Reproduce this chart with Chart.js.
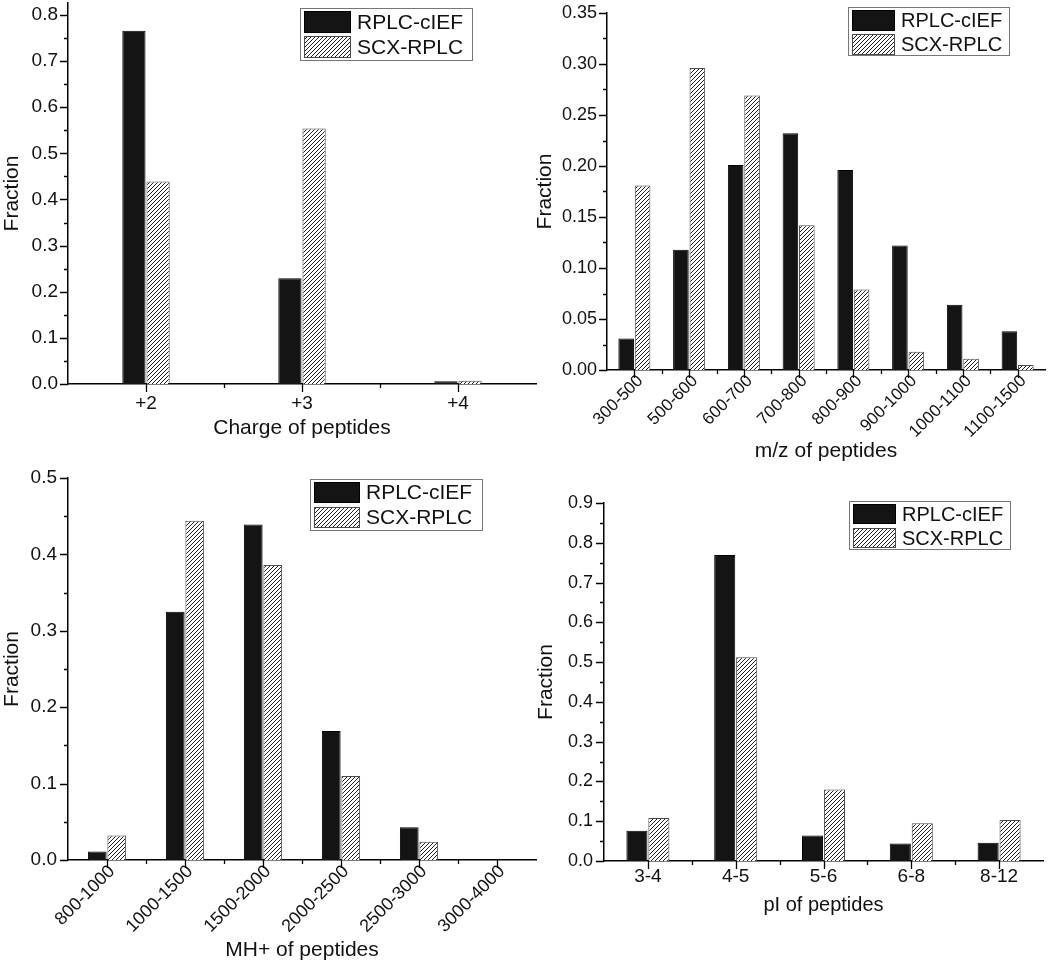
<!DOCTYPE html>
<html>
<head>
<meta charset="utf-8">
<script src="https://cdn.jsdelivr.net/npm/chart.js@4.4.1/dist/chart.umd.min.js"></script>
<style>
    html, body { margin: 0; padding: 0; background: #fff; }
    #wrap { position: relative; width: 1050px; height: 964px; }
    #wrap canvas { position: absolute; left: 0; top: 0; }
</style>
</head>
<body>
<div id="wrap">
    <canvas id="chargeChart" width="1050" height="964"></canvas>
    <canvas id="mzChart" width="1050" height="964"></canvas>
    <canvas id="mhChart" width="1050" height="964"></canvas>
    <canvas id="piChart" width="1050" height="964"></canvas>
</div>
<script>
// Данные
const seriesNames = ['RPLC-cIEF', 'SCX-RPLC'];

const chargeLabels = ['+2', '+3', '+4'];
const chargeRplc = [0.766, 0.229, 0.006];
const chargeScx = [0.439, 0.554, 0.007];

const mzLabels = ['300-500', '500-600', '600-700', '700-800', '800-900', '900-1000', '1000-1100', '1100-1500'];
const mzRplc = [0.031, 0.118, 0.201, 0.232, 0.196, 0.122, 0.064, 0.038];
const mzScx = [0.181, 0.296, 0.269, 0.142, 0.079, 0.018, 0.011, 0.005];

const mhLabels = ['800-1000', '1000-1500', '1500-2000', '2000-2500', '2500-3000', '3000-4000'];
const mhRplc = [0.011, 0.325, 0.439, 0.169, 0.043, 0];
const mhScx = [0.032, 0.444, 0.386, 0.110, 0.024, 0];

const piLabels = ['3-4', '4-5', '5-6', '6-8', '8-12'];
const piRplc = [0.076, 0.769, 0.064, 0.044, 0.046];
const piScx = [0.108, 0.512, 0.180, 0.095, 0.103];

Chart.defaults.font.family = '"Liberation Sans", Arial, sans-serif';
Chart.defaults.color = '#111';

// штриховка для второй серии
function hatch(ctx) {
    const c = document.createElement('canvas');
    c.width = 4; c.height = 4;
    const g = c.getContext('2d');
    g.fillStyle = '#fff';
    g.fillRect(0, 0, 4, 4);
    g.strokeStyle = '#222';
    g.lineWidth = 1;
    g.beginPath();
    g.moveTo(0, 4); g.lineTo(4, 0);
    g.moveTo(-1, 1); g.lineTo(1, -1);
    g.moveTo(3, 5); g.lineTo(5, 3);
    g.stroke();
    return ctx.createPattern(c, 'repeat');
}

// основные и промежуточные засечки на осях
const axisTicks = {
    id: 'axisTicks',
    afterDraw(chart, args, opts) {
        const ctx = chart.ctx;
        const area = chart.chartArea;
        const ys = chart.scales.y, xs = chart.scales.x;
        ctx.save();
        ctx.strokeStyle = '#000';
        ctx.lineWidth = 1.3;
        ctx.beginPath();
        const n = Math.round(opts.top / opts.minor);
        for (let i = 0; i <= n; i++) {
            const y = Math.round(ys.getPixelForValue(i * opts.minor)) + 0.5;
            const len = i % 2 === 0 ? 8 : 4;
            ctx.moveTo(area.left - len, y);
            ctx.lineTo(area.left, y);
        }
        const count = chart.data.labels.length;
        for (let i = 0; i < count; i++) {
            const x = Math.round(xs.getPixelForValue(i)) + 0.5;
            ctx.moveTo(x, area.bottom);
            ctx.lineTo(x, area.bottom + 8);
            if (i < count - 1) {
                const b = Math.round(xs.getPixelForValue(i + 0.5)) + 0.5;
                ctx.moveTo(b, area.bottom);
                ctx.lineTo(b, area.bottom + 4);
            }
        }
        ctx.stroke();
        ctx.restore();
    }
};

// легенда в рамке
const boxLegend = {
    id: 'boxLegend',
    afterDraw(chart, args, o) {
        const ctx = chart.ctx;
        ctx.save();
        ctx.strokeStyle = '#777';
        ctx.lineWidth = 1;
        ctx.strokeRect(o.x + 0.5, o.y + 0.5, o.w, o.h);
        chart.data.datasets.forEach((ds, i) => {
            const sx = o.x + 4;
            const sy = o.y + 3 + i * o.row;
            ctx.fillStyle = ds.backgroundColor;
            ctx.fillRect(sx, sy, o.sw, o.sh);
            ctx.strokeStyle = ds.borderColor;
            ctx.strokeRect(sx + 0.5, sy + 0.5, o.sw - 1, o.sh - 1);
            ctx.fillStyle = '#111';
            ctx.font = o.size + 'px "Liberation Sans", Arial, sans-serif';
            ctx.textBaseline = 'middle';
            ctx.fillText(ds.label, sx + o.sw + 6, sy + o.sh / 2 + 1);
        });
        ctx.restore();
    }
};

function makeChart(id, labels, rplc, scx, cfg) {
    const ctx = document.getElementById(id).getContext('2d');
    const area = cfg.area;
    const majors = [];
    const steps = Math.round(cfg.top / (cfg.minor * 2));
    for (let i = 0; i <= steps; i++) majors.push(Math.round(i * cfg.minor * 2 * 1000) / 1000);

    return new Chart(ctx, {
        type: 'bar',
        data: {
            labels: labels,
            datasets: [{
                label: seriesNames[0],
                data: rplc,
                backgroundColor: '#141414',
                borderColor: '#000',
                borderWidth: 1,
                barPercentage: cfg.bar,
                categoryPercentage: cfg.cat
            }, {
                label: seriesNames[1],
                data: scx,
                backgroundColor: hatch(ctx),
                borderColor: '#4a4a4a',
                borderWidth: 1,
                barPercentage: cfg.bar,
                categoryPercentage: cfg.cat
            }]
        },
        options: {
            responsive: false,
            animation: false,
            events: [],
            layout: {
                padding: {
                    left: area.left - cfg.yw,
                    top: area.top,
                    right: 1050 - area.right,
                    bottom: 964 - area.bottom - cfg.xh
                }
            },
            plugins: {
                legend: { display: false },
                tooltip: { enabled: false },
                axisTicks: { top: cfg.top, minor: cfg.minor },
                boxLegend: cfg.legend
            },
            scales: {
                x: {
                    grid: { display: false, drawTicks: false },
                    border: { display: true, color: '#000', width: 1.5 },
                    ticks: {
                        autoSkip: false,
                        maxRotation: cfg.rot,
                        minRotation: cfg.rot,
                        padding: cfg.xpad,
                        labelOffset: cfg.xoff,
                        font: { size: cfg.xfont }
                    },
                    title: { display: true, text: cfg.xtitle, font: { size: cfg.tfont }, padding: 0 },
                    afterFit(s) { s.height = cfg.xh; s.paddingLeft = 0; s.paddingRight = 0; }
                },
                y: {
                    min: 0,
                    max: cfg.max,
                    grid: { display: false, drawTicks: false },
                    border: { display: true, color: '#000', width: 1.5 },
                    afterBuildTicks(s) { s.ticks = majors.map(v => ({ value: v })); },
                    ticks: {
                        padding: cfg.ypad,
                        font: { size: cfg.yfont },
                        callback: v => Number(v).toFixed(cfg.dec)
                    },
                    title: { display: true, text: 'Fraction', font: { size: 21 }, padding: 0 },
                    afterFit(s) { s.width = cfg.yw; s.paddingTop = 0; s.paddingBottom = 0; }
                }
            }
        },
        plugins: [axisTicks, boxLegend]
    });
}

makeChart('chargeChart', chargeLabels, chargeRplc, chargeScx, {
    area: { left: 68, top: 3, right: 536, bottom: 384 },
    yw: 68, xh: 57, max: 0.826, top: 0.8, minor: 0.05, dec: 1,
    rot: 0, xfont: 19, yfont: 19, tfont: 21, xpad: 8, xoff: 0, ypad: 10,
    cat: 0.31, bar: 0.96, xtitle: 'Charge of peptides',
    legend: { x: 300, y: 8, w: 172, h: 52, sw: 47, sh: 22, row: 25, size: 21 }
});

makeChart('mzChart', mzLabels, mzRplc, mzScx, {
    area: { left: 607, top: 13, right: 1045, bottom: 370 },
    yw: 74, xh: 94, max: 0.35, top: 0.35, minor: 0.025, dec: 2,
    rot: 45, xfont: 17, yfont: 18, tfont: 21, xpad: 1, xoff: 6, ypad: 10,
    cat: 0.6, bar: 0.95, xtitle: 'm/z of peptides',
    legend: { x: 848, y: 7, w: 161, h: 48, sw: 43, sh: 21, row: 24, size: 20 }
});

makeChart('mhChart', mhLabels, mhRplc, mhScx, {
    area: { left: 68, top: 478, right: 536, bottom: 860 },
    yw: 68, xh: 103, max: 0.5, top: 0.5, minor: 0.05, dec: 1,
    rot: 45, xfont: 18, yfont: 19, tfont: 21, xpad: 1, xoff: 5, ypad: 11,
    cat: 0.5, bar: 0.96, xtitle: 'MH+ of peptides',
    legend: { x: 310, y: 479, w: 172, h: 51, sw: 46, sh: 21, row: 25, size: 21 }
});

makeChart('piChart', piLabels, piRplc, piScx, {
    area: { left: 604, top: 503, right: 1043, bottom: 861 },
    yw: 70, xh: 56, max: 0.9, top: 0.9, minor: 0.05, dec: 1,
    rot: 0, xfont: 19, yfont: 18, tfont: 20, xpad: 4, xoff: 0, ypad: 11,
    cat: 0.5, bar: 0.96, xtitle: 'pI of peptides',
    legend: { x: 849, y: 501, w: 161, h: 48, sw: 43, sh: 20, row: 24, size: 20 }
});
</script>
</body>
</html>
